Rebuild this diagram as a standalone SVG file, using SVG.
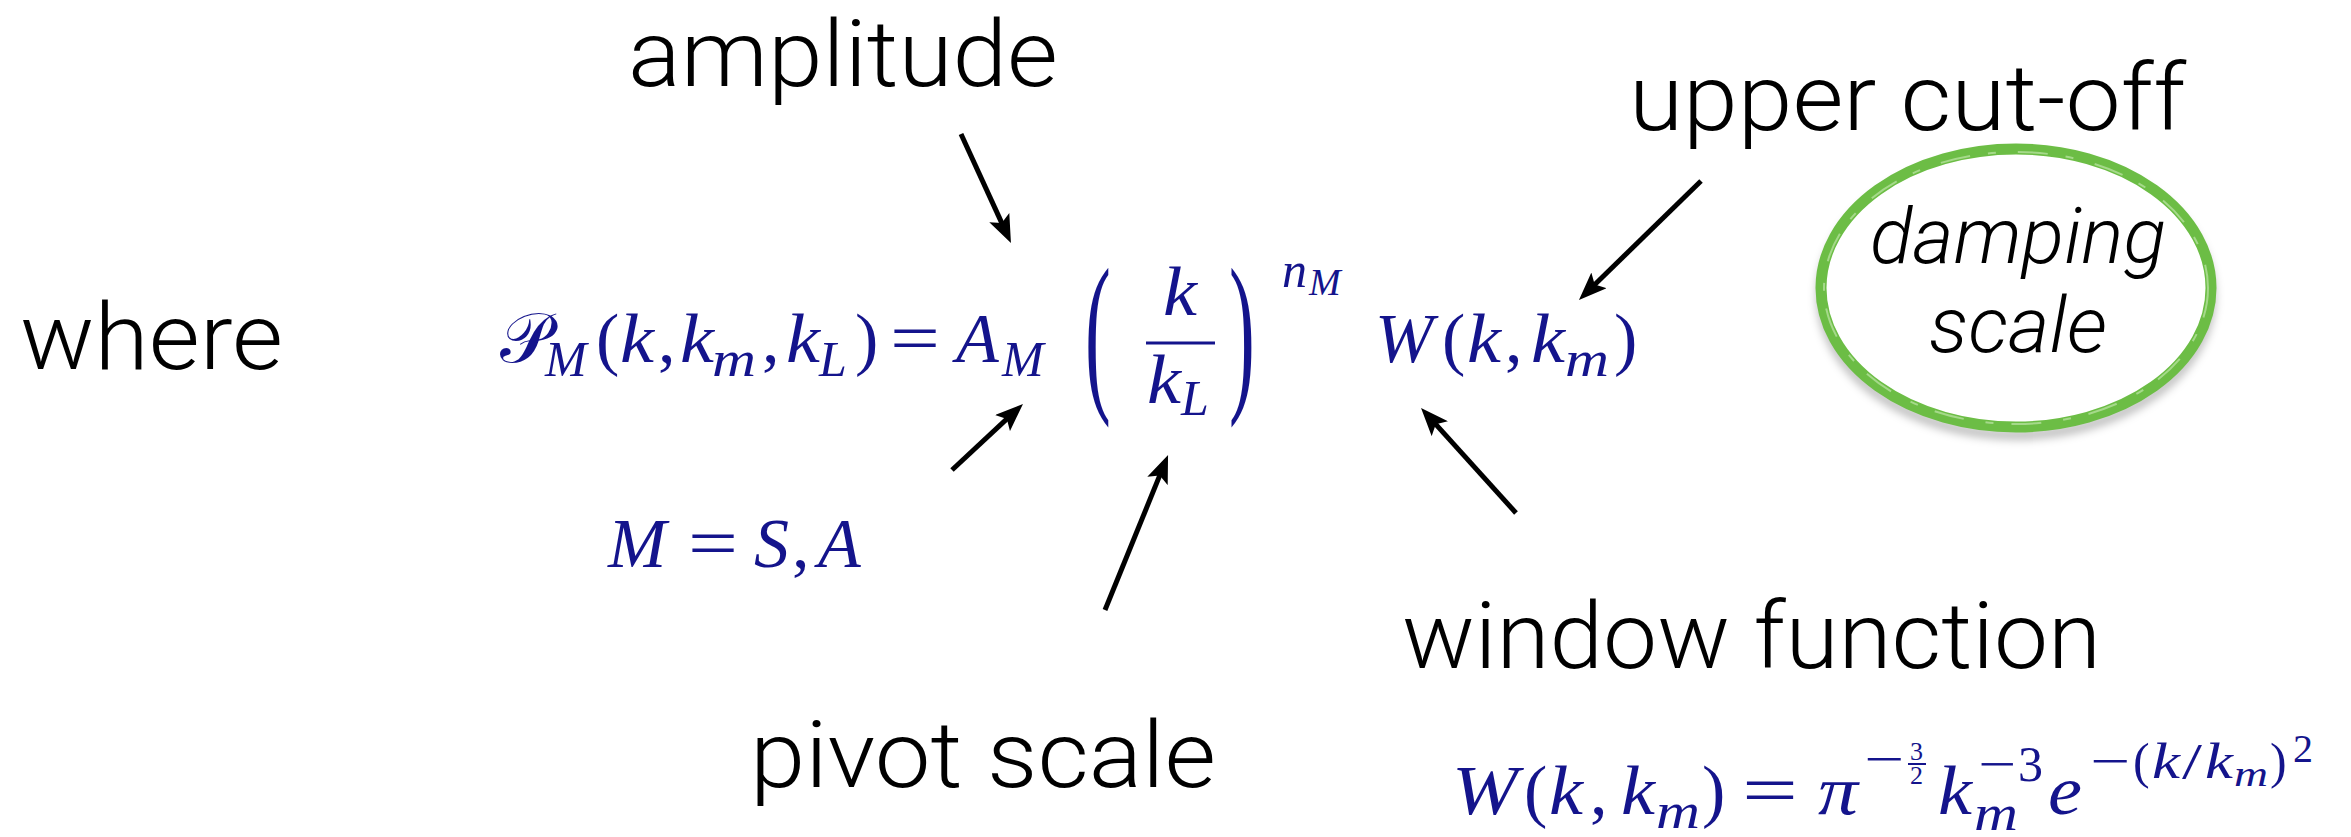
<svg xmlns="http://www.w3.org/2000/svg" width="2351" height="837" viewBox="0 0 2351 837">
<style>
.lbl{font-family:Roboto,"Liberation Sans",sans-serif;font-weight:300;font-size:92px;fill:#000}
.it{font-family:Roboto,"Liberation Sans",sans-serif;font-weight:300;font-style:italic;font-size:78px;fill:#000}
.m{font-family:"Liberation Serif","DejaVu Serif","DejaVu Sans",serif;fill:#14148c;font-size:70px}
.v{font-style:italic}
.m.s{font-size:50px}
.m.ss{font-size:36px}
.m.big{font-size:176px}
.m.f40{font-size:40px}
.m.f38{font-size:38px}
.m.f26{font-size:26px}
.conn line{stroke:#000;stroke-width:5;marker-end:url(#ah)}
</style>
<defs>
<marker id="ah" markerUnits="userSpaceOnUse" viewBox="0 0 28 22" refX="13" refY="11" markerWidth="28" markerHeight="22" orient="auto"><path d="M0,0 L28,11 L0,22 L6,11 z" fill="#000"/></marker>
<filter id="sh" x="-10%" y="-10%" width="120%" height="130%"><feGaussianBlur stdDeviation="4"/></filter>
</defs>
<rect width="2351" height="837" fill="#fff"/>

<g id="label-where"><text class="lbl" x="20" y="369" textLength="263" lengthAdjust="spacingAndGlyphs">where</text></g>
<g id="label-amplitude"><text class="lbl" x="628" y="86" textLength="430" lengthAdjust="spacingAndGlyphs">amplitude</text></g>
<g id="label-upper-cutoff"><text class="lbl" x="1629" y="130" textLength="557" lengthAdjust="spacingAndGlyphs">upper cut-off</text></g>
<g id="label-pivot"><text class="lbl" x="750" y="787" textLength="466" lengthAdjust="spacingAndGlyphs">pivot scale</text></g>
<g id="label-window"><text class="lbl" x="1402" y="668" textLength="699" lengthAdjust="spacingAndGlyphs">window function</text></g>

<g id="damping-scale">
<ellipse cx="2016" cy="290" rx="195" ry="139" fill="none" stroke="#000" stroke-opacity="0.25" stroke-width="10" filter="url(#sh)" transform="translate(0,6)"/>
<ellipse cx="2016" cy="288" rx="195" ry="139" fill="#fff" stroke="#6cbd45" stroke-width="11"/>
<ellipse cx="2016" cy="288" rx="192" ry="136" fill="none" stroke="#a5d98a" stroke-width="2" stroke-dasharray="30 18 8 22"/>
<text class="it" x="2018" y="263" text-anchor="middle" textLength="296" lengthAdjust="spacingAndGlyphs">damping</text>
<text class="it" x="2018" y="352" text-anchor="middle" textLength="178" lengthAdjust="spacingAndGlyphs">scale</text>
</g>

<g id="formula-main">
<text class="m" x="500" y="362">𝒫</text>
<text class="m v s" x="545" y="376">M</text>
<text class="m" x="596" y="362">(</text>
<text class="m v" x="620" y="362" textLength="34" lengthAdjust="spacingAndGlyphs">k</text>
<text class="m" x="658" y="362">,</text>
<text class="m v" x="680" y="362" textLength="34" lengthAdjust="spacingAndGlyphs">k</text>
<text class="m v s" x="712" y="376" textLength="44" lengthAdjust="spacingAndGlyphs">m</text>
<text class="m" x="762" y="362">,</text>
<text class="m v" x="786" y="362" textLength="34" lengthAdjust="spacingAndGlyphs">k</text>
<text class="m v s" x="819" y="376">L</text>
<text class="m" x="855" y="362">)</text>
<text class="m" x="890" y="362" textLength="50" lengthAdjust="spacingAndGlyphs">=</text>
<text class="m v" x="956" y="362">A</text>
<text class="m v s" x="1002" y="376">M</text>
<text class="m big" transform="translate(1085,390) scale(0.44,1)">(</text>
<text class="m v" x="1163" y="315" textLength="34" lengthAdjust="spacingAndGlyphs">k</text>
<line x1="1146" y1="343" x2="1215" y2="343" stroke="#14148c" stroke-width="3"/>
<text class="m v" x="1147" y="403" textLength="34" lengthAdjust="spacingAndGlyphs">k</text>
<text class="m v s" x="1181" y="415">L</text>
<text class="m big" transform="translate(1229,390) scale(0.44,1)">)</text>
<text class="m v s" x="1282" y="287">n</text>
<text class="m v f38" x="1309" y="295">M</text>
<text class="m v" x="1375" y="362">W</text>
<text class="m" x="1442" y="362">(</text>
<text class="m v" x="1467" y="362" textLength="34" lengthAdjust="spacingAndGlyphs">k</text>
<text class="m" x="1505" y="362">,</text>
<text class="m v" x="1531" y="362" textLength="34" lengthAdjust="spacingAndGlyphs">k</text>
<text class="m v s" x="1565" y="376" textLength="44" lengthAdjust="spacingAndGlyphs">m</text>
<text class="m" x="1614" y="362">)</text>
</g>

<g id="formula-M">
<text class="m v" x="608" y="567">M</text>
<text class="m" x="688" y="567" textLength="50" lengthAdjust="spacingAndGlyphs">=</text>
<text class="m v" x="754" y="567">S</text>
<text class="m" x="792" y="567">,</text>
<text class="m v" x="818" y="567">A</text>
</g>

<g id="formula-window">
<text class="m v" x="1452" y="814" textLength="66" lengthAdjust="spacingAndGlyphs">W</text>
<text class="m" x="1524" y="814">(</text>
<text class="m v" x="1549" y="814" textLength="34" lengthAdjust="spacingAndGlyphs">k</text>
<text class="m" x="1590" y="814">,</text>
<text class="m v" x="1621" y="814" textLength="34" lengthAdjust="spacingAndGlyphs">k</text>
<text class="m v s" x="1656" y="828" textLength="44" lengthAdjust="spacingAndGlyphs">m</text>
<text class="m" x="1702" y="814">)</text>
<text class="m" x="1742" y="814" textLength="56" lengthAdjust="spacingAndGlyphs">=</text>
<text class="m v" x="1818" y="814" textLength="40" lengthAdjust="spacingAndGlyphs">π</text>
<text class="m s" x="1864" y="776" textLength="40" lengthAdjust="spacingAndGlyphs">−</text>
<text class="m f26" x="1910" y="760">3</text>
<line x1="1908" y1="764" x2="1926" y2="764" stroke="#14148c" stroke-width="2"/>
<text class="m f26" x="1910" y="784">2</text>
<text class="m v" x="1938" y="814" textLength="34" lengthAdjust="spacingAndGlyphs">k</text>
<text class="m v s" x="1974" y="830" textLength="44" lengthAdjust="spacingAndGlyphs">m</text>
<text class="m s" x="1978" y="781" textLength="38" lengthAdjust="spacingAndGlyphs">−</text>
<text class="m s" x="2018" y="781">3</text>
<text class="m v" x="2048" y="814" textLength="34" lengthAdjust="spacingAndGlyphs">e</text>
<text class="m s" x="2090" y="778" textLength="40" lengthAdjust="spacingAndGlyphs">−</text>
<text class="m s" x="2133" y="778">(</text>
<text class="m v s" x="2152" y="778" textLength="28" lengthAdjust="spacingAndGlyphs">k</text>
<text class="m s" x="2182" y="778" textLength="20" lengthAdjust="spacingAndGlyphs">/</text>
<text class="m v s" x="2205" y="778" textLength="28" lengthAdjust="spacingAndGlyphs">k</text>
<text class="m v ss" x="2234" y="786" textLength="34" lengthAdjust="spacingAndGlyphs">m</text>
<text class="m s" x="2270" y="778">)</text>
<text class="m f40" x="2293" y="762">2</text>
</g>

<g id="connectors" class="conn">
<line x1="961" y1="134" x2="1004.7" y2="229.4"/>
<line x1="1701" y1="181" x2="1589.7" y2="289.5"/>
<line x1="952" y1="470" x2="1012" y2="414.2"/>
<line x1="1105" y1="610" x2="1162.4" y2="468.9"/>
<line x1="1516" y1="513" x2="1431.1" y2="419.1"/>
</g>
</svg>
